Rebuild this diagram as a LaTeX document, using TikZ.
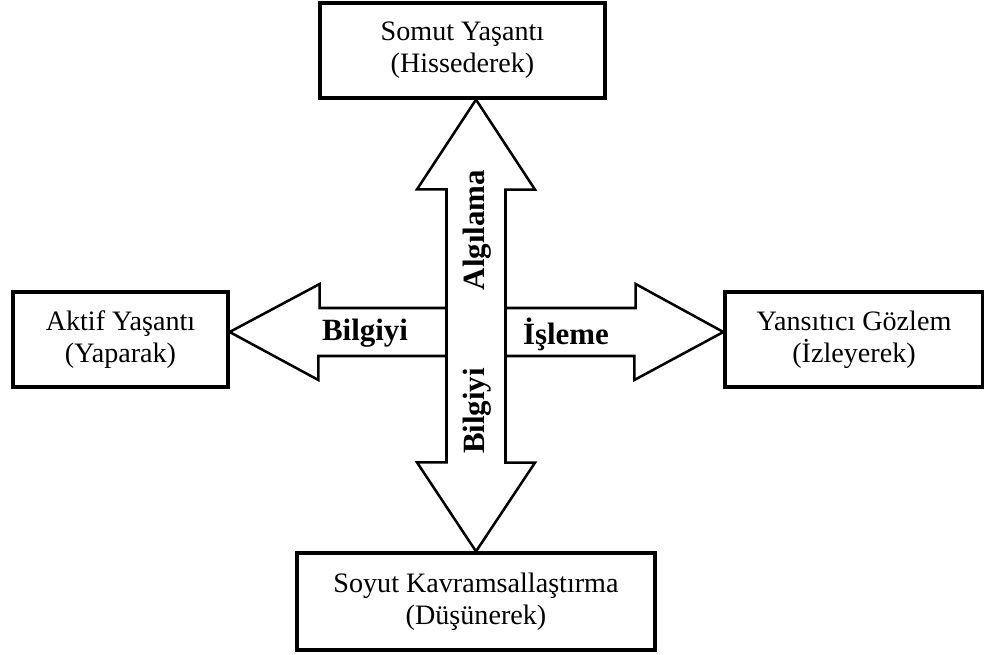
\documentclass[tikz,border=0pt]{standalone}
\usepackage{fontspec}
\setmainfont{Liberation Serif}
\usepackage{tikz}
\usetikzlibrary{positioning, calc}
\tikzset{
	stagenode/.style={
			rectangle,
			draw=black,
			line width=2.3pt,
			fill=white,
			align=center,
			inner sep=0pt,
			font=\fontsize{20}{23}\selectfont
		},
	bigarrow/.style={
			draw=black,
			line width=1.8pt,
			fill=white,
			line join=miter
		},
	arrowlabel/.style={
			inner sep=0pt,
			font=\fontsize{22}{24}\selectfont\bfseries
		}
}

\begin{document}
\begin{tikzpicture}[x=0.025cm, y=-0.025cm]
\useasboundingbox (0,0) rectangle (984,655);

\node[stagenode, minimum width=7.125cm, minimum height=2.375cm] (n1) at (462.5,50.5)  {Somut Yaşantı\\(Hissederek)};
\node[stagenode, minimum width=5.375cm, minimum height=2.375cm] (n2) at (120.5,339.5)  {Aktif Yaşantı\\(Yaparak)};
\node[stagenode, minimum width=6.45cm, minimum height=2.375cm] (n3) at (854,339.5)  {Yansıtıcı Gözlem\\(İzleyerek)};
\node[stagenode, minimum width=8.95cm, minimum height=2.425cm] (n4) at (476,601.5)  {Soyut Kavramsallaştırma\\(Düşünerek)};

\coordinate (c) at (476,332);

\draw[bigarrow] (n2.east |- c) -- ++(90,-48) -- ++(0,24) -- ++(316,0) -- ++(0,-24)
  -- (n3.west |- c) -- ++(-89,48) -- ++(0,-24) -- ++(-316,0) -- ++(0,24) -- cycle;

\draw[bigarrow] (n1.south -| c) -- ++(59,90) -- ++(-29.5,0) -- ++(0,273) -- ++(29.5,0)
  -- (n4.north) -- ++(-59,-89) -- ++(29.5,0) -- ++(0,-273) -- ++(-29.5,0) -- cycle;

\node[arrowlabel] (l1) at (365,333)  {Bilgiyi};
\node[arrowlabel] (l2) at (566,334)  {İşleme};
\node[arrowlabel, rotate=90] (l3) at (477,230)  {Algılama};
\node[arrowlabel, rotate=90] (l4) at (477,411)  {Bilgiyi};
\end{tikzpicture}
\end{document}
